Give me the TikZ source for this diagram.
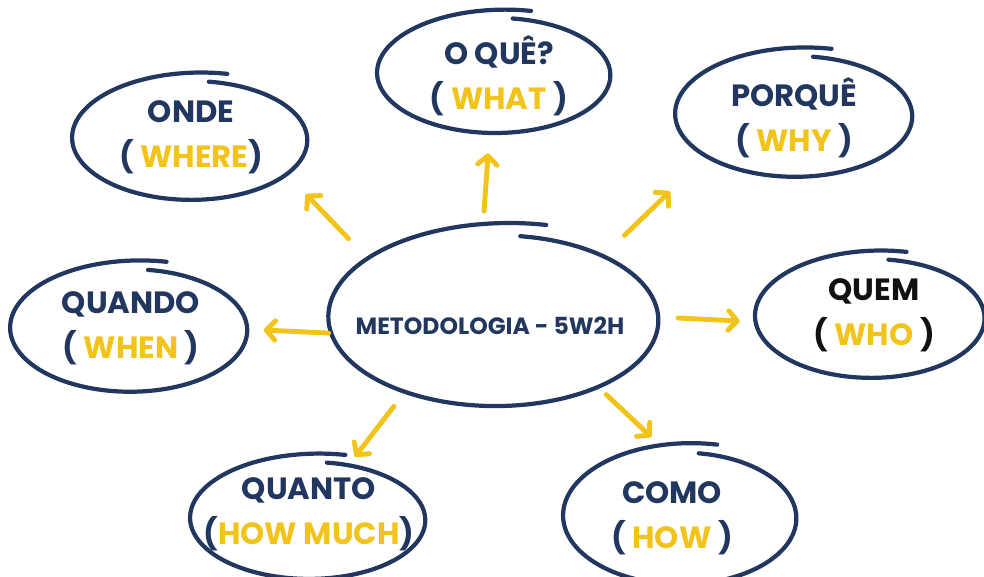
\documentclass[tikz,border=0pt]{standalone}
\usepackage{fontspec}
\setmainfont{Poppins}
\usetikzlibrary{arrows.meta,calc}
\definecolor{azul}{HTML}{22375F}
\definecolor{amarelo}{HTML}{F2C31B}
\definecolor{preto}{HTML}{111111}
\newcommand{\amar}[1]{\textcolor{amarelo}{#1}}
% contorno feito a mao: uma volta que termina por fora do inicio
\newcommand{\anel}[5]{%
  \draw[traco, shift={(#1)}] plot[smooth, domain=278:645, samples=80]
    ({#4 + #2*(0.92+0.15*((\x-278)/367)^3)*cos(\x)},
     {#5 + #3*(0.92+0.15*((\x-278)/367)^3)*sin(\x)});}
\tikzset{
  bolha/.style={font=\bfseries\fontsize{17.5}{25.5}\selectfont, text=azul, align=center},
  traco/.style={draw=azul, line width=2.4pt, line cap=round, line join=round},
  seta/.style={draw=amarelo, line width=2.8pt, line cap=round,
    -{Straight Barb[length=5pt,width=11pt,round]}},
}

\begin{document}
\begin{tikzpicture}[x=0.02cm, y=-0.02cm]
  \useasboundingbox (0,0) rectangle (984,577);

  \node[bolha, font=\bfseries\fontsize{13.4}{16}\selectfont] (metodo) at (490,326) {METODOLOGIA - 5W2H};
  \node[bolha] (oque) at (499,76) {O QUÊ?\\( \amar{WHAT} )};
  \node[bolha] (porque) at (794,118) {PORQUÊ\\( \amar{WHY} )};
  \node[bolha] (onde) at (191,137) {ONDE\\( \amar{WHERE})};
  \node[bolha] (quando) at (131,328) {QUANDO\\( \amar{WHEN} )};
  \node[bolha, text=preto] (quem) at (874,315) {QUEM\\( \amar{WHO} )};
  \node[bolha] (quanto) at (309,514) {QUANTO\\(\amar{HOW MUCH})};
  \node[bolha] (como) at (672,518) {COMO\\( \amar{HOW} )};

  \anel{metodo}{174}{92}{8}{-6}
  \anel{oque}{123}{62}{-2}{-1}
  \anel{porque}{125}{65}{3}{-2}
  \anel{onde}{124}{64}{2}{3}
  \anel{quando}{125}{66}{1}{2}
  \anel{quem}{121}{64}{-1}{3}
  \anel{quanto}{124}{63}{2}{6}
  \anel{como}{123}{71}{11}{0}

  \draw[seta] ($(metodo)!0.47!0.6:(onde)$) -- ($(metodo)!0.64!-3.3:(onde)$);
  \draw[seta] ($(metodo)!0.46!5:(oque)$) -- ($(metodo)!0.69!2.7:(oque)$);
  \draw[seta] ($(metodo)!0.44!-0.4:(porque)$) -- ($(metodo)!0.61!2.4:(porque)$);
  \draw[seta] ($(metodo)!0.45!2.2:(quando)$) -- ($(metodo)!0.63!0.7:(quando)$);
  \draw[seta] ($(metodo)!0.49!0.8:(quem)$) -- ($(metodo)!0.65!-0.5:(quem)$);
  \draw[seta] ($(metodo)!0.48!-6.2:(quanto)$) -- ($(metodo)!0.72!-2:(quanto)$);
  \draw[seta] ($(metodo)!0.51!16:(como)$) -- ($(metodo)!0.74!12:(como)$);
\end{tikzpicture}
\end{document}
